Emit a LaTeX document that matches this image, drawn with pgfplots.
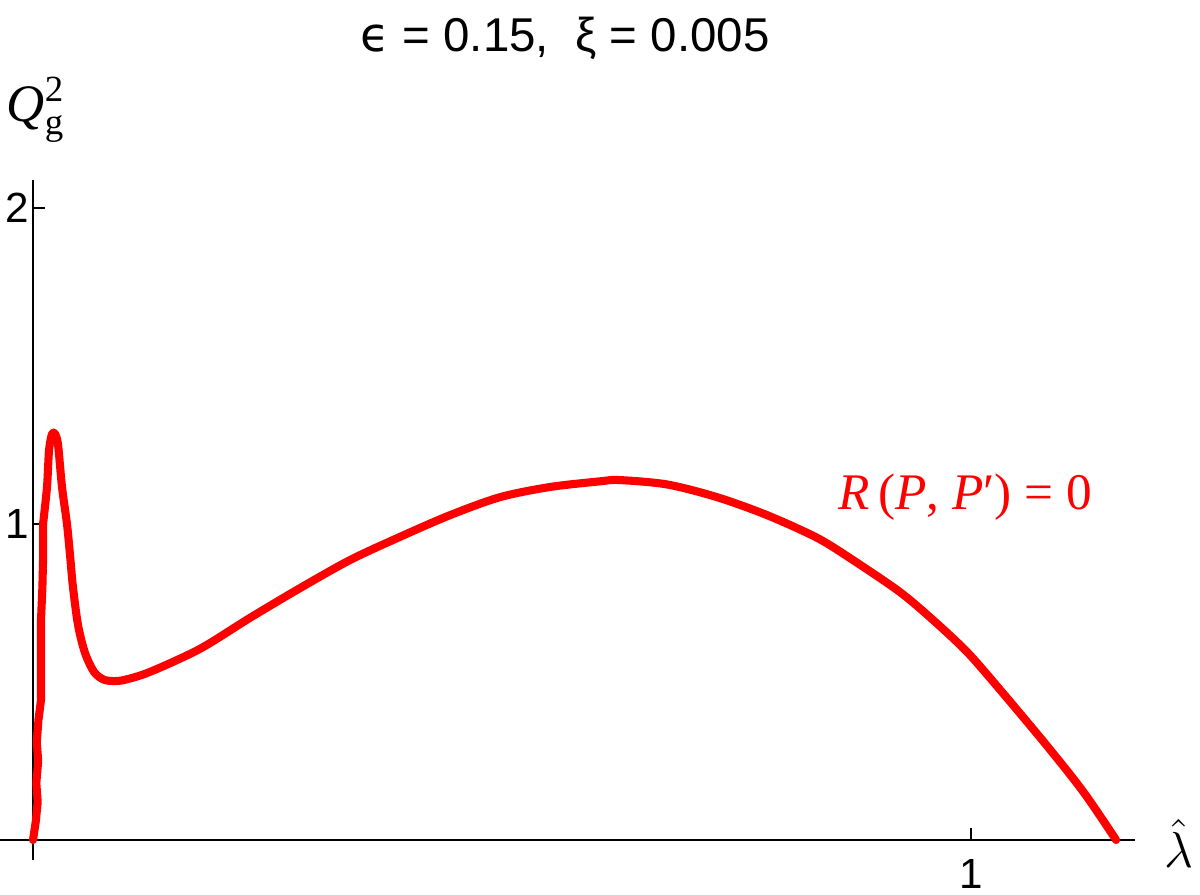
\documentclass[border=0pt]{standalone}
\usepackage{amsmath}
\usepackage{fontspec}
\setmainfont{Liberation Sans}
\newfontfamily\serif{Liberation Serif}
\newfontfamily\dejavu{DejaVu Sans}
\usepackage{pgfplots}
\pgfplotsset{compat=1.18}

\begin{document}
\begin{tikzpicture}
\begin{axis}[
  x=9.38cm, y=3.16cm,
  scale only axis,
  xmin=-0.035, xmax=1.175, ymin=-0.063, ymax=2.09,
  axis lines=middle,
  axis line style={-, line width=0.6pt, black},
  xtick={1}, ytick={1,2},
  tick align=inside,
  major tick length=0.12cm,
  tick style={line width=0.6pt, black},
  tick label style={font=\fontsize{12}{14}\selectfont},
  /pgf/number format/assume math mode=true,
  xticklabel style={yshift=-2pt},
  yticklabel style={xshift=2.5pt},
  clip=false,
]
% rising branch (jagged in the original)
\addplot[red, line width=2.3pt, line join=round, line cap=round] coordinates {
(0,0) (0.0030,0.06) (0.0050,0.12) (0.0035,0.18) (0.0055,0.25) (0.0040,0.31)
(0.0058,0.38) (0.0085,0.443) (0.0085,0.696) (0.0100,0.80) (0.0107,0.886)
(0.0107,1.0)
};
\addplot[red, line width=2.3pt, line join=round, line cap=round, smooth, tension=0.5] coordinates {
(0.0107,1.0) (0.0149,1.117) (0.0171,1.234) (0.0203,1.285) (0.0235,1.285)
(0.0267,1.25) (0.0309,1.117) (0.0362,1.0) (0.0395,0.90) (0.0426,0.80)
(0.0480,0.68) (0.0554,0.592) (0.0650,0.532) (0.0750,0.508) (0.0853,0.503)
(0.098,0.507) (0.1247,0.532) (0.178,0.605) (0.2313,0.703) (0.2846,0.797)
(0.338,0.886) (0.391,0.959) (0.4446,1.028) (0.498,1.085) (0.551,1.117)
(0.6045,1.135) (0.625,1.139) (0.676,1.125) (0.729,1.085) (0.7825,1.028)
(0.836,0.956) (0.874,0.886) (0.924,0.785) (0.9595,0.696) (0.9957,0.595)
(1.031,0.475) (1.082,0.294) (1.1205,0.149) (1.1546,0)
};
\node[font=\fontsize{13.5}{16}\selectfont] at (axis cs:0.567,2.538)
  {{\dejavu ϵ} = 0.15,\ \ ξ = 0.005};
\node[font=\serif\fontsize{15}{18}\selectfont] at (axis cs:0.003,2.31)
  {$\text{\textit{Q}}_{\text{g}}^{\text{2}}$};
\node[font=\fontsize{14}{16}\selectfont] at (axis cs:1.222,-0.01)
  {$\hat{\lambda}$};
\node[red, font=\serif\fontsize{14.6}{17}\selectfont] at (axis cs:0.9936,1.085)
  {\textit{R}\,(\textit{P},\ \textit{P}′) = 0};
\coordinate (tl) at (axis cs:-0.0352,2.658);
\coordinate (br) at (axis cs:1.244,-0.174);
\end{axis}
\pgfresetboundingbox
\path[use as bounding box] (tl) rectangle (br);
\end{tikzpicture}
\end{document}
